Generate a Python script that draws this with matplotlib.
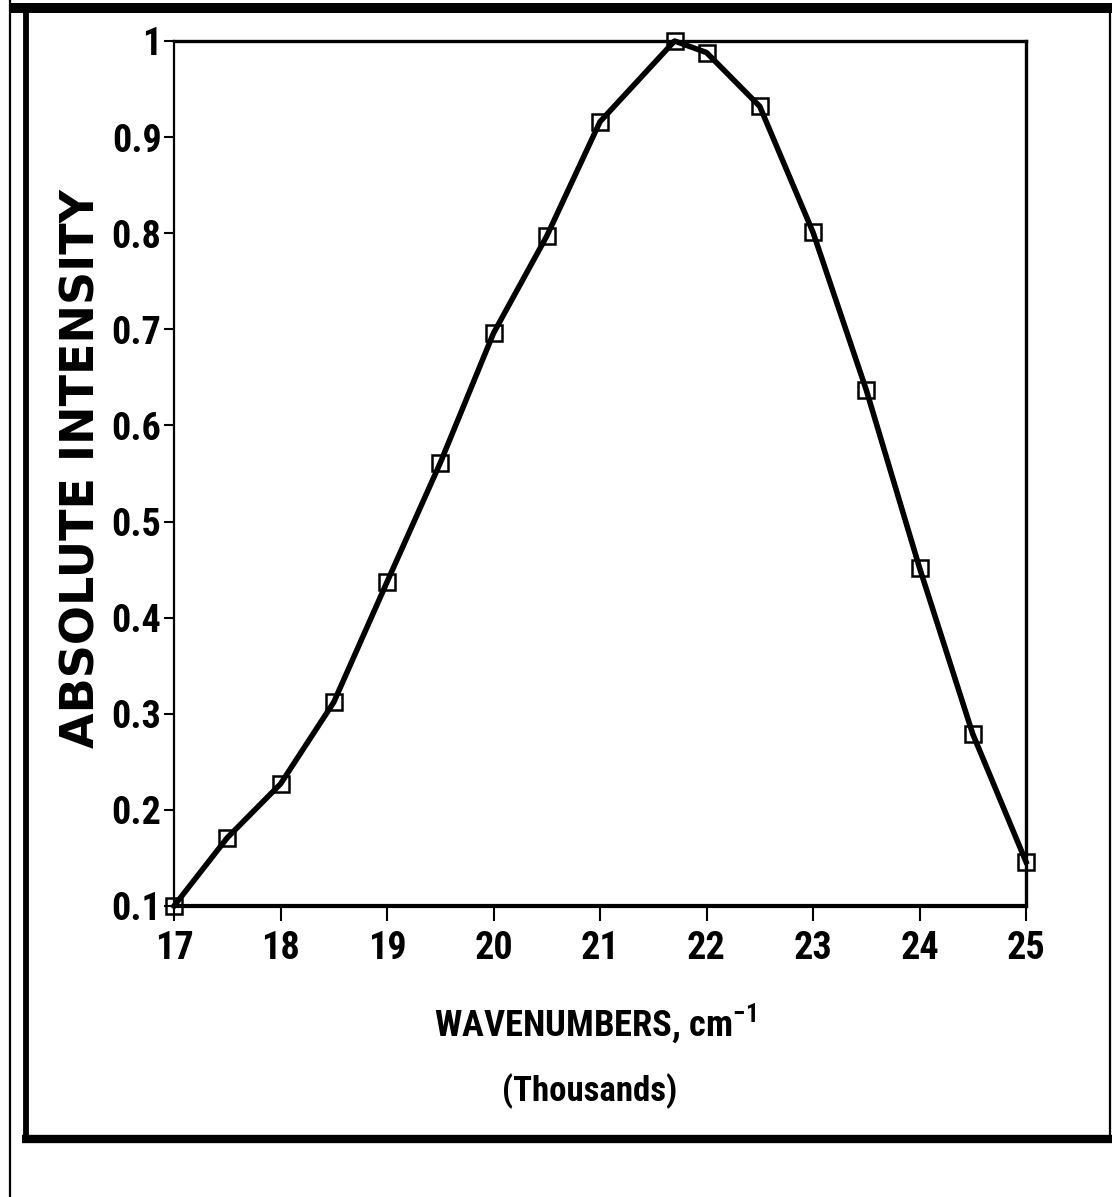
import matplotlib
matplotlib.use('Agg')
import matplotlib.pyplot as plt
from matplotlib import font_manager
from matplotlib.lines import Line2D
from matplotlib.ticker import FuncFormatter

# spectrum (wavenumber in thousands, relative intensity)
wavenumber = [17, 17.5, 18, 18.5, 19, 19.5, 20, 20.5, 21, 21.7, 22, 22.5, 23, 23.5, 24, 24.5, 25]
intensity = [0.100, 0.171, 0.227, 0.312, 0.437, 0.561, 0.696, 0.797, 0.916, 1.0,
             0.988, 0.932, 0.801, 0.637, 0.452, 0.279, 0.146]
x_ticks = [17, 18, 19, 20, 21, 22, 23, 24, 25]
y_ticks = [0.1, 0.2, 0.3, 0.4, 0.5, 0.6, 0.7, 0.8, 0.9, 1.0]

# pick a narrow bold face if one is installed
names = {f.name for f in font_manager.fontManager.ttflist}
narrow_fam = 'Liberation Sans'
for cand in ['Liberation Sans Narrow', 'Roboto Condensed', 'Open Sans Condensed',
             'DejaVu Sans Condensed']:
    if cand in names:
        narrow_fam = cand
        break
narrow = [narrow_fam, 'DejaVu Sans']
plt.rcParams['mathtext.fontset'] = 'custom'
plt.rcParams['mathtext.rm'] = narrow_fam + ':bold'
plt.rcParams['mathtext.bf'] = narrow_fam + ':bold'

W, H = 1112, 1197
fig = plt.figure(figsize=(W / 100, H / 100), dpi=100)
ax = fig.add_axes([174 / W, 1 - 906 / H, (1026 - 174) / W, (906 - 41) / H])
renderer = fig.canvas.get_renderer()


def fit_size(txt, target_px, along='width'):
    # scale a text's font size so that its extent matches the picture
    ext = txt.get_window_extent(renderer)
    cur = ext.width if along == 'width' else ext.height
    txt.set_fontsize(txt.get_fontsize() * target_px / cur)
    return txt.get_fontsize()


ax.plot(wavenumber, intensity, color='black', lw=4.0, marker='s', ms=11,
        mfc='none', mec='black', mew=1.8, clip_on=False, zorder=3)

ax.set_xlim(17, 25)
ax.set_ylim(0.1, 1.0)
ax.set_xticks(x_ticks)
ax.set_yticks(y_ticks)
ax.yaxis.set_major_formatter(FuncFormatter(lambda v, p: '1' if v > 0.99 else f'{v:.1f}'))

probe = fig.text(0, 0, '0.9', family=narrow, fontweight='bold', fontsize=30)
tick_size = fit_size(probe, 50)
probe.remove()
for lab in ax.get_xticklabels() + ax.get_yticklabels():
    lab.set_family(narrow)
    lab.set_fontweight('bold')
    lab.set_fontsize(tick_size)
ax.tick_params(axis='x', direction='out', length=11, width=1.5, pad=6)
ax.tick_params(axis='y', direction='out', length=7, width=1.5, pad=2)

ax.spines['left'].set_linewidth(1.6)
ax.spines['bottom'].set_linewidth(3.0)
ax.spines['top'].set_linewidth(2.4)
ax.spines['right'].set_linewidth(2.4)

ylab = fig.text(82 / W, 1 - 468 / H, 'ABSOLUTE INTENSITY', rotation=90,
                fontsize=30, fontweight='bold', family='DejaVu Sans',
                ha='center', va='center')
fit_size(ylab, 560, along='height')

xlab = fig.text(595 / W, 1 - 1036 / H, r'WAVENUMBERS, cm$^{-1}$', fontsize=30,
                fontweight='bold', family=narrow, ha='center', va='baseline')
fit_size(xlab, 322)
thous = fig.text(590 / W, 1 - 1091 / H, '(Thousands)', fontsize=30,
                 fontweight='bold', family=narrow, ha='center', va='center')
fit_size(thous, 176)


# page frame around the chart
def fline(x0, y0, x1, y1, lw):
    fig.add_artist(Line2D([x0 / W, x1 / W], [1 - y0 / H, 1 - y1 / H],
                          transform=fig.transFigure, color='black', lw=lw,
                          solid_capstyle='butt'))


fline(10, 0, 10, H, 1.6)
fline(10, 8, W, 8, 7.2)
fline(25.5, 8, 25.5, 1139, 4.2)
fline(22, 1139, W, 1139, 6)
fline(1110, 8, 1110, 1139, 1.6)

fig.savefig('out.png', dpi=100)
